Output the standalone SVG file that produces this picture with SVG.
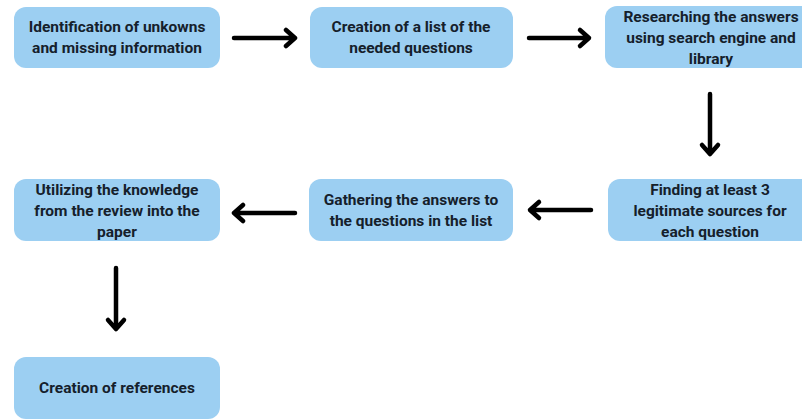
<svg xmlns="http://www.w3.org/2000/svg" width="802" height="419" viewBox="0 0 802 419">
<style>
.box{fill:#9ccff2;}
.t{font-family:Roboto,"Liberation Sans",sans-serif;font-weight:bold;font-size:15.5px;fill:#15202b;text-anchor:middle;}
.c{fill:none;stroke:#000;stroke-width:4.5;stroke-linecap:round;stroke-linejoin:round;}
</style>
<rect width="802" height="419" fill="#fff"/>
<g id="n1"><rect class="box" x="14" y="7" width="206" height="61" rx="12"/><text class="t" x="117" y="32">Identification of unkowns</text><text class="t" x="117" y="53">and missing information</text></g>
<g id="n2"><rect class="box" x="310" y="7" width="203" height="61" rx="12"/><text class="t" x="411" y="32">Creation of a list of the</text><text class="t" x="411" y="53">needed questions</text></g>
<g id="n3"><rect class="box" x="605" y="6" width="210" height="62" rx="12"/><text class="t" x="711" y="22">Researching the answers</text><text class="t" x="711" y="43">using search engine and</text><text class="t" x="711" y="64">library</text></g>
<g id="n4"><rect class="box" x="608" y="179" width="210" height="62" rx="12"/><text class="t" x="710" y="195">Finding at least 3</text><text class="t" x="710" y="216">legitimate sources for</text><text class="t" x="710" y="237">each question</text></g>
<g id="n5"><rect class="box" x="309" y="179" width="204" height="62" rx="12"/><text class="t" x="411" y="205">Gathering the answers to</text><text class="t" x="411" y="226">the questions in the list</text></g>
<g id="n6"><rect class="box" x="14" y="179" width="206" height="62" rx="12"/><text class="t" x="117" y="195">Utilizing the knowledge</text><text class="t" x="117" y="216">from the review into the</text><text class="t" x="117" y="237">paper</text></g>
<g id="n7"><rect class="box" x="14" y="357" width="206" height="62" rx="12"/><text class="t" x="117" y="393">Creation of references</text></g>
<g id="connectors">
<path class="c" d="M234 38H295M286 30L295 38L286 46"/>
<path class="c" d="M529 38H589M580 30L589 38L580 46"/>
<path class="c" d="M710 94V154M702 145L710 154L718 145"/>
<path class="c" d="M591 210H530M539 202L530 210L539 218"/>
<path class="c" d="M295 213H234M243 205L234 213L243 221"/>
<path class="c" d="M116 268V329M108 320L116 329L124 320"/>
</g>
</svg>
